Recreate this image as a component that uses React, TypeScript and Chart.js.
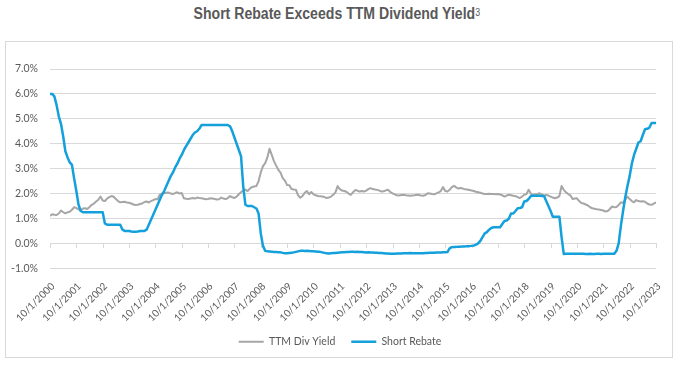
import React, { useEffect, useRef } from "react";
import { Chart, registerables } from "chart.js";

Chart.register(...registerables);

// x tick labels (one per year, every 12 monthly points starting 10/1/2000)
const xTickLabels = [
  "10/1/2000", "10/1/2001", "10/1/2002", "10/1/2003", "10/1/2004", "10/1/2005",
  "10/1/2006", "10/1/2007", "10/1/2008", "10/1/2009", "10/1/2010", "10/1/2011",
  "10/1/2012", "10/1/2013", "10/1/2014", "10/1/2015", "10/1/2016", "10/1/2017",
  "10/1/2018", "10/1/2019", "10/1/2020", "10/1/2021", "10/1/2022", "10/1/2023",
];

// monthly values, Oct 2000 .. Oct 2023 (each row = 12 months starting October)
const ttmDivYield = [
  1.1, 1.17, 1.15, 1.14, 1.2, 1.32, 1.25, 1.2, 1.25, 1.27, 1.35, 1.45,
  1.42, 1.37, 1.33, 1.4, 1.41, 1.38, 1.46, 1.55, 1.6, 1.68, 1.75, 1.88,
  1.72, 1.7, 1.8, 1.86, 1.9, 1.87, 1.78, 1.7, 1.65, 1.66, 1.67, 1.64,
  1.63, 1.6, 1.56, 1.54, 1.55, 1.58, 1.6, 1.66, 1.68, 1.64, 1.7, 1.74,
  1.78, 1.77, 1.95, 2.0, 2.01, 2.03, 2.04, 2.0, 1.98, 2.02, 2.05, 2.0,
  2.02, 1.81, 1.79, 1.78, 1.8, 1.82, 1.8, 1.84, 1.82, 1.81, 1.79, 1.77,
  1.78, 1.81, 1.8, 1.78, 1.76, 1.77, 1.84, 1.8, 1.78, 1.82, 1.9, 1.85,
  1.82, 1.88, 1.97, 2.05, 2.12, 2.16, 2.1, 2.2, 2.26, 2.28, 2.3, 2.5,
  2.85, 3.1, 3.22, 3.45, 3.8, 3.55, 3.3, 3.12, 2.95, 2.84, 2.62, 2.52,
  2.34, 2.33, 2.18, 2.16, 2.15, 1.93, 1.83, 1.9, 2.03, 2.1, 1.97, 2.06,
  1.97, 1.93, 1.9, 1.89, 1.88, 1.86, 1.82, 1.84, 1.88, 1.95, 2.05, 2.3,
  2.18, 2.12, 2.1, 2.07, 2.0, 1.95, 2.05, 2.14, 2.12, 2.08, 2.1, 2.08,
  2.12, 2.18, 2.22, 2.18, 2.16, 2.15, 2.12, 2.08, 2.09, 2.13, 2.15, 2.06,
  2.01, 1.97, 1.93, 1.92, 1.94, 1.95, 1.93, 1.92, 1.91, 1.92, 1.93, 1.95,
  1.94, 1.92, 1.91, 1.94, 2.01, 2.0, 1.98, 1.97, 2.01, 2.05, 2.1, 2.26,
  2.1, 2.08, 2.15, 2.26, 2.31, 2.25, 2.2, 2.22, 2.2, 2.17, 2.16, 2.14,
  2.12, 2.1, 2.07, 2.05, 2.03, 2.0, 1.98, 1.98, 1.99, 1.98, 1.98, 1.97,
  1.98, 1.96, 1.93, 1.88, 1.92, 1.95, 1.93, 1.91, 1.9, 1.86, 1.82, 1.88,
  1.95, 1.98, 2.15, 2.0, 1.95, 1.97, 1.98, 2.01, 1.97, 1.91, 1.94, 1.92,
  1.88, 1.84, 1.81, 1.84, 1.9, 2.3, 2.15, 2.05, 1.98, 1.93, 1.78, 1.8,
  1.81, 1.7, 1.62, 1.6, 1.56, 1.52, 1.45, 1.41, 1.39, 1.37, 1.36, 1.34,
  1.32, 1.28, 1.3, 1.38, 1.48, 1.45, 1.46, 1.54, 1.65, 1.62, 1.75, 1.88,
  1.78, 1.7, 1.65, 1.74, 1.7, 1.68, 1.69, 1.67, 1.6, 1.56, 1.55, 1.6,
  1.65,
];

const shortRebate = [
  6.0, 6.0, 5.9, 5.55, 5.1, 4.8, 4.3, 3.7, 3.45, 3.25, 3.15, 2.6,
  2.1, 1.55, 1.3, 1.25, 1.25, 1.25, 1.25, 1.25, 1.25, 1.25, 1.25, 1.25,
  1.25, 0.8, 0.75, 0.75, 0.75, 0.75, 0.75, 0.75, 0.75, 0.55, 0.5, 0.5,
  0.5, 0.48, 0.47, 0.47, 0.48, 0.5, 0.5, 0.5, 0.55, 0.75, 0.95, 1.15,
  1.35, 1.55, 1.75, 1.95, 2.1, 2.3, 2.5, 2.7, 2.85, 3.05, 3.2, 3.4,
  3.55, 3.75, 3.9, 4.05, 4.2, 4.35, 4.45, 4.5, 4.6, 4.75, 4.75, 4.75,
  4.75, 4.75, 4.75, 4.75, 4.75, 4.75, 4.75, 4.75, 4.75, 4.75, 4.7, 4.5,
  4.25, 4.0, 3.75, 3.5, 2.3, 1.55, 1.5, 1.5, 1.5, 1.45, 1.4, 1.2,
  0.4, -0.1, -0.3, -0.32, -0.33, -0.34, -0.35, -0.35, -0.36, -0.36, -0.38, -0.4,
  -0.4, -0.39, -0.38, -0.36, -0.34, -0.32, -0.3, -0.3, -0.31, -0.3, -0.31, -0.32,
  -0.32, -0.33, -0.34, -0.34, -0.36, -0.38, -0.4, -0.41, -0.4, -0.39, -0.39, -0.38,
  -0.37, -0.36, -0.36, -0.35, -0.35, -0.34, -0.34, -0.35, -0.34, -0.35, -0.35, -0.36,
  -0.37, -0.36, -0.37, -0.37, -0.38, -0.38, -0.39, -0.39, -0.4, -0.41, -0.41, -0.42,
  -0.42, -0.42, -0.41, -0.41, -0.41, -0.4, -0.4, -0.4, -0.39, -0.4, -0.4, -0.4,
  -0.4, -0.4, -0.4, -0.39, -0.39, -0.38, -0.38, -0.38, -0.37, -0.37, -0.37, -0.36,
  -0.36, -0.35, -0.2, -0.15, -0.14, -0.14, -0.13, -0.13, -0.12, -0.12, -0.11, -0.11,
  -0.1, -0.09, -0.05, 0.0, 0.1, 0.25, 0.4, 0.45, 0.55, 0.62, 0.65, 0.65,
  0.65, 0.65, 0.78, 0.9, 0.92, 1.0, 1.2, 1.2, 1.3, 1.41, 1.42, 1.45,
  1.68, 1.7, 1.78, 1.9, 1.91, 1.91, 1.91, 1.91, 1.9, 1.9, 1.7, 1.5,
  1.3, 1.07, 1.07, 1.07, 1.07, 0.25, -0.43, -0.42, -0.42, -0.42, -0.42, -0.42,
  -0.42, -0.42, -0.42, -0.42, -0.43, -0.43, -0.42, -0.43, -0.43, -0.42, -0.42, -0.43,
  -0.42, -0.42, -0.42, -0.42, -0.42, -0.42, -0.3, 0.0, 0.7, 1.3, 1.85, 2.3,
  2.7, 3.2, 3.55, 3.8, 4.05, 4.1, 4.35, 4.58, 4.6, 4.65, 4.83, 4.83,
  4.83,
];

const seriesNames = ["TTM Div Yield", "Short Rebate"];
const seriesColors = ["#A6A6A6", "#13A0DB"];

const TEXT = "#595959";
const GRID = "#D9D9D9";
const FONT = "Lato, 'Noto Sans', sans-serif";

const zeroLineTicks = {
  id: "zeroLineTicks",
  beforeDatasetsDraw(chart: any) {
    const { ctx, scales } = chart;
    const x = scales.x;
    const y = scales.y;
    const y0 = Math.round(y.getPixelForValue(0));
    ctx.save();
    ctx.strokeStyle = GRID;
    ctx.lineWidth = 1;
    ctx.beginPath();
    x.ticks.forEach((t: any) => {
      const px = Math.round(x.getPixelForValue(t.value)) + 0.5;
      ctx.moveTo(px, y0);
      ctx.lineTo(px, y0 + 5);
    });
    ctx.stroke();
    ctx.restore();
  },
};

// legend is given a small layout height (so the rotated x labels get room),
// then moved up/right to where the reference shows it
const legendShift = {
  id: "legendShift",
  afterLayout(chart: any) {
    const lg = chart.legend;
    if (lg) {
      lg.left += 9;
      lg.right += 9;
      lg.top -= 16.5;
      lg.bottom = lg.top + 36;
    }
  },
};

export default function App() {
  const ref = useRef<HTMLCanvasElement | null>(null);

  useEffect(() => {
    if (!ref.current) return;
    const chart = new Chart(ref.current, {
      type: "line",
      data: {
        datasets: [
          {
            label: seriesNames[0],
            data: ttmDivYield.map((v, i) => ({ x: i, y: v })),
            borderColor: seriesColors[0],
            backgroundColor: seriesColors[0],
            borderWidth: 2,
            pointRadius: 0,
            tension: 0,
            borderJoinStyle: "round",
            order: 2,
          },
          {
            label: seriesNames[1],
            data: shortRebate.map((v, i) => ({ x: i, y: v })),
            borderColor: seriesColors[1],
            backgroundColor: seriesColors[1],
            borderWidth: 2.5,
            pointRadius: 0,
            tension: 0,
            borderJoinStyle: "round",
            order: 1,
          },
        ],
      },
      options: {
        animation: false,
        responsive: false,
        maintainAspectRatio: false,
        layout: { padding: { top: 27, right: 16, left: 0, bottom: 0 } },
        plugins: {
          legend: {
            position: "bottom",
            maxHeight: 20,
            labels: {
              usePointStyle: true,
              pointStyle: "line",
              pointStyleWidth: 25,
              padding: 16,
              color: TEXT,
              font: { family: FONT, size: 10.5 },
              sort: (a: any, b: any) => a.datasetIndex - b.datasetIndex,
            },
          },
          tooltip: { enabled: false },
        },
        scales: {
          x: {
            type: "linear",
            min: 0,
            max: 276,
            grid: { display: false },
            border: { display: false },
            ticks: {
              stepSize: 12,
              autoSkip: false,
              maxRotation: 45,
              minRotation: 45,
              padding: 4,
              labelOffset: 3,
              color: TEXT,
              font: { family: FONT, size: 10 },
              callback: (v: any) => xTickLabels[Math.round(Number(v) / 12)] ?? "",
            },
            afterFit: (s: any) => {
              s.height = 68.7;
            },
          },
          y: {
            min: -1,
            max: 7,
            grid: { color: GRID, drawTicks: false },
            border: { display: false },
            ticks: {
              stepSize: 1,
              padding: 12,
              color: TEXT,
              font: { family: FONT, size: 10.5 },
              callback: (v: any) => Number(v).toFixed(1) + "%",
            },
            afterFit: (s: any) => {
              s.width = 44;
            },
          },
        },
      },
      plugins: [zeroLineTicks, legendShift],
    } as any);
    return () => chart.destroy();
  }, []);

  return (
    <div
      style={{
        position: "absolute",
        left: 0,
        top: 0,
        width: 685,
        height: 370,
        background: "#fff",
      }}
    >
      <div
        style={{
          position: "absolute",
          left: 0,
          top: 4,
          width: 673,
          textAlign: "center",
          lineHeight: "19px",
          whiteSpace: "nowrap",
        }}
      >
        <span
          style={{
            display: "inline-block",
            transform: "scaleX(0.88)",
            transformOrigin: "50% 50%",
            fontFamily: "'Liberation Sans', Arial, sans-serif",
            fontWeight: 700,
            fontSize: 16,
            color: TEXT,
          }}
        >
          Short Rebate Exceeds TTM Dividend Yield
          <span style={{ fontSize: 10, fontWeight: 400, position: "relative", top: -3 }}>3</span>
        </span>
      </div>
      <div
        style={{
          position: "absolute",
          left: 5,
          top: 41,
          width: 668,
          height: 317,
          border: "1px solid #D9D9D9",
          boxSizing: "border-box",
        }}
      >
        <canvas ref={ref} width={666} height={315} style={{ display: "block" }} />
      </div>
    </div>
  );
}
